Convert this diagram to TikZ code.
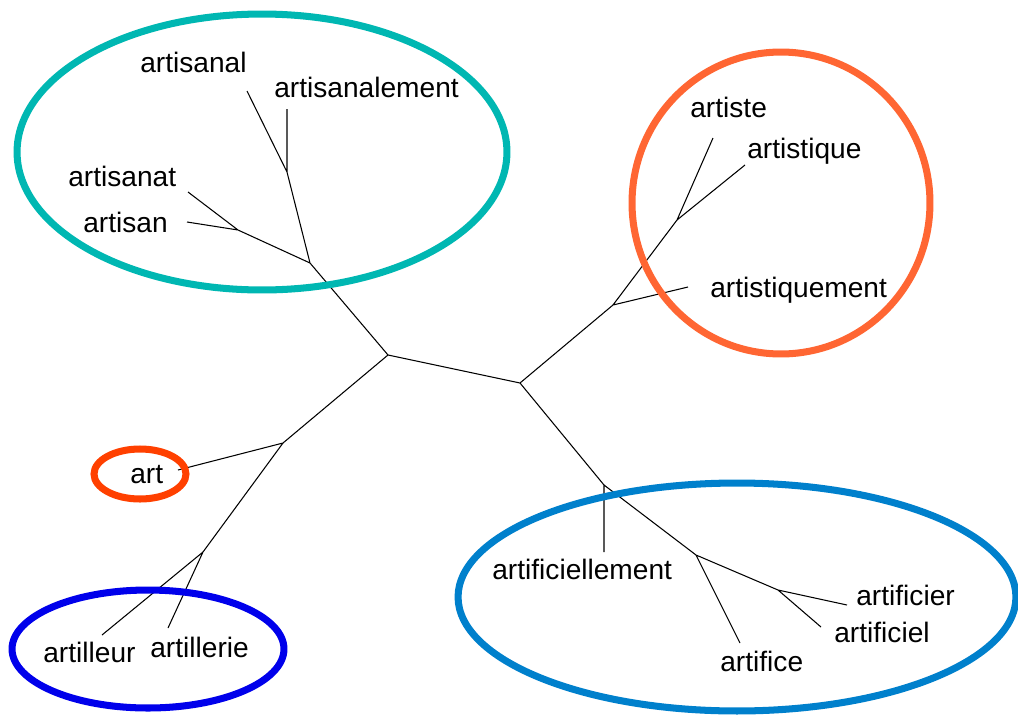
\documentclass[tikz,border=0pt]{standalone}
\usepackage{fontspec}
\setmainfont{Liberation Sans}
\usepackage{tikz}
\usetikzlibrary{calc}
\definecolor{tealring}{RGB}{0,183,178}
\definecolor{orangering}{RGB}{255,102,51}
\definecolor{redring}{RGB}{255,64,0}
\definecolor{navyring}{RGB}{0,0,235}
\definecolor{bluering}{RGB}{0,128,204}

\begin{document}
\begin{tikzpicture}[x=0.02cm, y=-0.02cm, font=\fontsize{16}{19}\selectfont]

        % Setup the styles for the words and the rings
        \tikzset{word style/.style={anchor=base west, inner sep=0pt},
                 branch style/.style={line width=0.6pt, draw=black},
                 ring style/.style={line width=4pt}}

        \useasboundingbox (0, 0) rectangle (1018, 714);

        % Inner forks of the tree
        \coordinate (C1) at (388, 355);
        \coordinate (C2) at (520, 383);
        \coordinate (A2) at (310, 263);
        \coordinate (A1) at (287, 172);
        \coordinate (A3) at (238, 230);
        \coordinate (B2) at (613, 305);
        \coordinate (B1) at (677, 220);
        \coordinate (D1) at (283, 443);
        \coordinate (D2) at (203, 552);
        \coordinate (E1) at (604, 485);
        \coordinate (E2) at (696, 555);
        \coordinate (E3) at (778, 590);

        % Leaf ends of the tree
        \coordinate (artisanal end)        at (247, 91);
        \coordinate (artisanalement end)   at (287, 109);
        \coordinate (artisanat end)        at (188, 192);
        \coordinate (artisan end)          at (187, 222);
        \coordinate (artiste end)          at (713, 138);
        \coordinate (artistique end)       at (745, 165);
        \coordinate (artistiquement end)   at (688, 287);
        \coordinate (art end)              at (178, 470);
        \coordinate (artilleur end)        at (102, 635);
        \coordinate (artillerie end)       at (168, 628);
        \coordinate (artificiellement end) at (604, 552);
        \coordinate (artifice end)         at (740, 643);
        \coordinate (artificier end)       at (847, 605);
        \coordinate (artificiel end)       at (821, 627);

        % Draw the words
        \node[word style] at (140, 72)  (artisanal)        {artisanal};
        \node[word style] at (274, 97)  (artisanalement)   {artisanalement};
        \node[word style] at (68, 186)  (artisanat)        {artisanat};
        \node[word style] at (83, 232)  (artisan)          {artisan};
        \node[word style] at (690, 117) (artiste)          {artiste};
        \node[word style] at (747, 158) (artistique)       {artistique};
        \node[word style] at (710, 297) (artistiquement)   {artistiquement};
        \node[word style] at (130, 483) (art)              {art};
        \node[word style] at (43, 662)  (artilleur)        {artilleur};
        \node[word style] at (150, 657) (artillerie)       {artillerie};
        \node[word style] at (492, 579) (artificiellement) {artificiellement};
        \node[word style] at (720, 671) (artifice)         {artifice};
        \node[word style] at (856, 605) (artificier)       {artificier};
        \node[word style] at (834, 642) (artificiel)       {artificiel};

        % Connect the forks and the leaves
        \draw[branch style]
            (C1) -- (C2)
            (C1) -- (A2)
            (A2) -- (A1)
            (A1) -- (artisanal end)
            (A1) -- (artisanalement end)
            (A2) -- (A3)
            (A3) -- (artisanat end)
            (A3) -- (artisan end)
            (C2) -- (B2)
            (B2) -- (B1)
            (B1) -- (artiste end)
            (B1) -- (artistique end)
            (B2) -- (artistiquement end)
            (C1) -- (D1)
            (D1) -- (art end)
            (D1) -- (D2)
            (D2) -- (artilleur end)
            (D2) -- (artillerie end)
            (C2) -- (E1)
            (E1) -- (artificiellement end)
            (E1) -- (E2)
            (E2) -- (artifice end)
            (E2) -- (E3)
            (E3) -- (artificier end)
            (E3) -- (artificiel end)
            ;

        % Draw the rings round the families
        \draw[ring style, tealring]   (262, 152) ellipse [x radius=4.9cm,  y radius=2.76cm];
        \draw[ring style, orangering] (781, 203) ellipse [x radius=2.98cm, y radius=3.02cm];
        \draw[ring style, redring]    (140, 474) ellipse [x radius=0.92cm, y radius=0.5cm];
        \draw[ring style, navyring]   (148, 649) ellipse [x radius=2.72cm, y radius=1.18cm];
        \draw[ring style, bluering]   (737, 597) ellipse [x radius=5.58cm, y radius=2.28cm];
\end{tikzpicture}
\end{document}
